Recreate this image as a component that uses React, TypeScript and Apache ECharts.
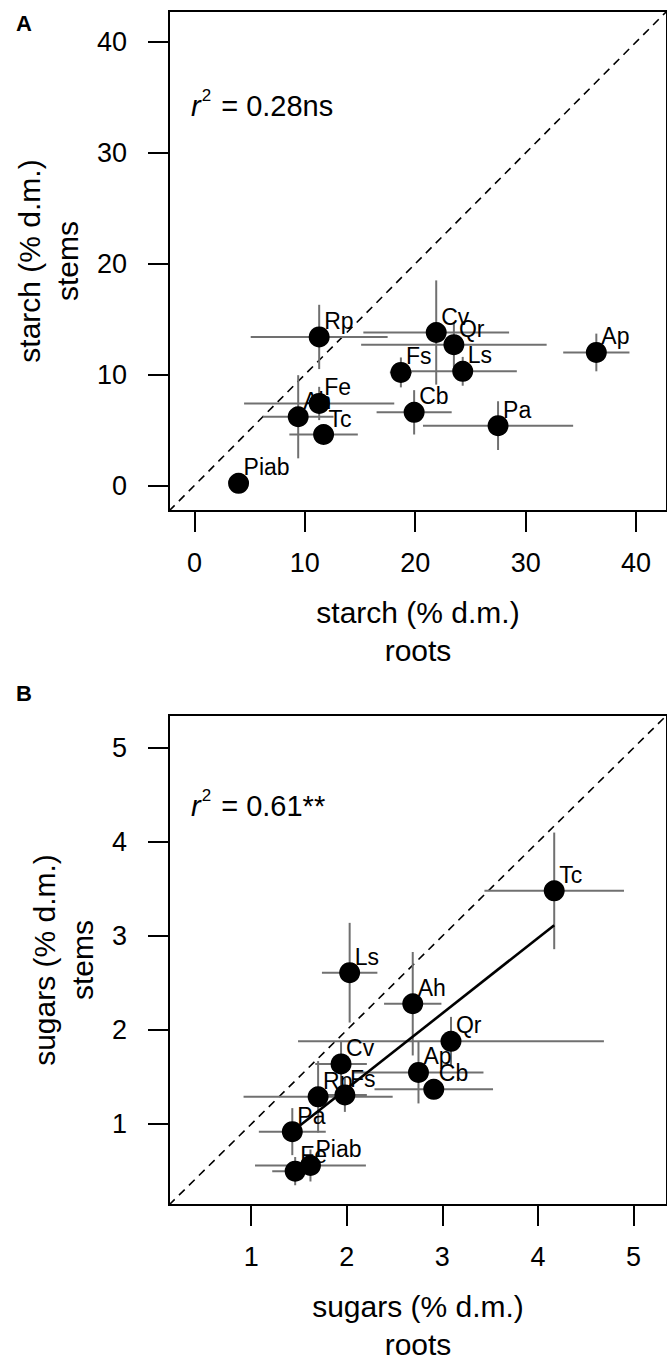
import React, { useEffect, useRef } from "react";
import * as echarts from "echarts";

// Species codes, shared by both panels
const species = ["Rp", "Cv", "Qr", "Ap", "Fs", "Ls", "Fe", "Ah", "Tc", "Cb", "Pa", "Piab"];

// Panel A: starch (% d.m.) in roots (x) and stems (y), with error half-widths
const starchRoots = [11.3, 21.9, 23.5, 36.4, 18.7, 24.3, 11.3, 9.4, 11.7, 19.9, 27.5, 4.0];
const starchRootsErr = [6.2, 6.6, 8.4, 3.0, 1.0, 4.9, 6.8, 3.2, 3.1, 3.4, 6.8, 0.3];
const starchStems = [13.4, 13.8, 12.7, 12.0, 10.2, 10.3, 7.4, 6.2, 4.6, 6.6, 5.4, 0.2];
const starchStemsErr = [2.9, 4.7, 2.0, 1.7, 1.35, 1.3, 1.5, 3.75, 0.6, 2.0, 2.2, 0.3];

// Panel B: sugars (% d.m.) in roots (x) and stems (y), with error half-widths
const sugarRoots = [1.7, 1.94, 3.09, 2.75, 1.98, 2.03, 1.46, 2.69, 4.17, 2.91, 1.43, 1.62];
const sugarRootsErr = [0.78, 0.27, 1.6, 0.68, 0.23, 0.29, 0.24, 0.3, 0.73, 0.62, 0.35, 0.58];
const sugarStems = [1.29, 1.64, 1.88, 1.55, 1.31, 2.61, 0.5, 2.28, 3.48, 1.37, 0.92, 0.56];
const sugarStemsErr = [0.38, 0.24, 0.26, 0.33, 0.18, 0.53, 0.15, 0.55, 0.62, 0.1, 0.25, 0.17];

// Axis ranges and tick values
const starchRange = [-2.3, 42.8];
const sugarRange = [0.14, 5.35];
const starchTicks = [0, 10, 20, 30, 40];
const sugarTicks = [1, 2, 3, 4, 5];

// Fitted regression for sugars (stems ~ roots)
const sugarFit = { intercept: -0.225, slope: 0.801 };

const r2Starch = "0.28ns";
const r2Sugar = "0.61**";

const FONT = "'Liberation Sans', Arial, Helvetica, sans-serif";
const ERR_COLOR = "#707070";
const TITLE_SIZE = 30;

function errorBarSeries(idx: number, xs: number[], ys: number[], xe: number[], ye: number[]) {
  return {
    type: "custom",
    xAxisIndex: idx,
    yAxisIndex: idx,
    silent: true,
    z: 2,
    encode: { x: 0, y: 1 },
    data: xs.map((x, i) => [x, ys[i], xe[i], ye[i]]),
    renderItem: (_params: any, api: any) => {
      const x = api.value(0);
      const y = api.value(1);
      const dx = api.value(2);
      const dy = api.value(3);
      const l = api.coord([x - dx, y]);
      const r = api.coord([x + dx, y]);
      const t = api.coord([x, y + dy]);
      const b = api.coord([x, y - dy]);
      const style = { stroke: ERR_COLOR, lineWidth: 2 };
      return {
        type: "group",
        children: [
          { type: "line", shape: { x1: l[0], y1: l[1], x2: r[0], y2: r[1] }, style },
          { type: "line", shape: { x1: t[0], y1: t[1], x2: b[0], y2: b[1] }, style },
        ],
      };
    },
  };
}

function pointSeries(idx: number, xs: number[], ys: number[]) {
  return {
    type: "scatter",
    xAxisIndex: idx,
    yAxisIndex: idx,
    z: 4,
    symbol: "circle",
    symbolSize: 21,
    itemStyle: { color: "#000", opacity: 1 },
    data: species.map((name, i) => ({ name, value: [xs[i], ys[i]] })),
    label: {
      show: true,
      formatter: "{b}",
      position: [15.5, -5.5],
      align: "left",
      verticalAlign: "middle",
      fontSize: 23,
      color: "#000",
      fontFamily: FONT,
    },
  };
}

function identitySeries(idx: number, range: number[]) {
  return {
    type: "line",
    xAxisIndex: idx,
    yAxisIndex: idx,
    z: 1,
    symbol: "none",
    silent: true,
    lineStyle: { color: "#000", width: 1.6, type: [8, 6] },
    data: [
      [range[0], range[0]],
      [range[1], range[1]],
    ],
  };
}

function xAxisFor(idx: number, range: number[], ticks: number[], name: string) {
  return {
    type: "value",
    gridIndex: idx,
    min: range[0],
    max: range[1],
    axisLine: { show: false, onZero: false },
    axisTick: { show: true, inside: false, length: 21, lineStyle: { color: "#000", width: 2 }, customValues: ticks },
    axisLabel: { customValues: ticks, margin: 38, fontSize: 27, color: "#000", fontFamily: FONT },
    splitLine: { show: false },
    name,
    nameLocation: "middle",
    nameGap: 82,
    nameTextStyle: { fontSize: TITLE_SIZE, lineHeight: 38, color: "#000", fontFamily: FONT },
  };
}

function yAxisFor(idx: number, range: number[], ticks: number[], name: string) {
  return {
    type: "value",
    gridIndex: idx,
    min: range[0],
    max: range[1],
    axisLine: { show: false, onZero: false },
    axisTick: { show: true, inside: false, length: 21, lineStyle: { color: "#000", width: 2 }, customValues: ticks },
    axisLabel: { customValues: ticks, margin: 42, fontSize: 27, color: "#000", fontFamily: FONT },
    splitLine: { show: false },
    name,
    nameLocation: "middle",
    nameGap: 58,
    nameTextStyle: { fontSize: TITLE_SIZE, lineHeight: 38, color: "#000", fontFamily: FONT },
  };
}

function r2Text(top: number, value: string) {
  return {
    type: "text",
    left: 191,
    top,
    style: {
      text: `{r|r}{s|2}{t| = ${value}}`,
      fill: "#000",
      rich: {
        r: { fontSize: 29, fontStyle: "italic", fontFamily: FONT, lineHeight: 34, verticalAlign: "bottom" },
        s: { fontSize: 17, fontFamily: FONT, lineHeight: 34, verticalAlign: "top", padding: [1, 2, 0, 1] },
        t: { fontSize: 29, fontFamily: FONT, lineHeight: 34, verticalAlign: "bottom" },
      },
    },
  };
}

export default function App() {
  const ref = useRef<HTMLDivElement>(null);

  useEffect(() => {
    if (!ref.current) return;
    const chart = echarts.init(ref.current, null, { renderer: "svg" });

    const fitX0 = Math.min(...sugarRoots);
    const fitX1 = Math.max(...sugarRoots);

    chart.setOption({
      animation: false,
      backgroundColor: "#fff",
      textStyle: { fontFamily: FONT },
      grid: [
        { left: 169, top: 11, width: 500, height: 500, show: true, borderColor: "#000", borderWidth: 2, backgroundColor: "transparent" },
        { left: 169, top: 715, width: 500, height: 499, show: true, borderColor: "#000", borderWidth: 2, backgroundColor: "transparent" },
      ],
      xAxis: [
        xAxisFor(0, starchRange, starchTicks, "starch (% d.m.)\nroots"),
        xAxisFor(1, sugarRange, sugarTicks, "sugars (% d.m.)\nroots"),
      ],
      yAxis: [
        yAxisFor(0, starchRange, starchTicks, "starch (% d.m.)\nstems"),
        yAxisFor(1, sugarRange, sugarTicks, "sugars (% d.m.)\nstems"),
      ],
      graphic: [
        { type: "text", left: 16, top: 12, style: { text: "A", fontSize: 22, fontWeight: "bold", fontFamily: FONT, fill: "#000" } },
        { type: "text", left: 16, top: 682, style: { text: "B", fontSize: 22, fontWeight: "bold", fontFamily: FONT, fill: "#000" } },
        r2Text(86, r2Starch),
        r2Text(786, r2Sugar),
      ],
      series: [
        identitySeries(0, starchRange),
        errorBarSeries(0, starchRoots, starchStems, starchRootsErr, starchStemsErr),
        pointSeries(0, starchRoots, starchStems),
        identitySeries(1, sugarRange),
        {
          type: "line",
          xAxisIndex: 1,
          yAxisIndex: 1,
          z: 3,
          symbol: "none",
          silent: true,
          lineStyle: { color: "#000", width: 2.6 },
          data: [
            [fitX0, sugarFit.intercept + sugarFit.slope * fitX0],
            [fitX1, sugarFit.intercept + sugarFit.slope * fitX1],
          ],
        },
        errorBarSeries(1, sugarRoots, sugarStems, sugarRootsErr, sugarStemsErr),
        pointSeries(1, sugarRoots, sugarStems),
      ],
    });

    return () => chart.dispose();
  }, []);

  return (
    <div
      ref={ref}
      style={{ position: "absolute", left: 0, top: 0, width: 667, height: 1364, background: "#fff" }}
    />
  );
}
